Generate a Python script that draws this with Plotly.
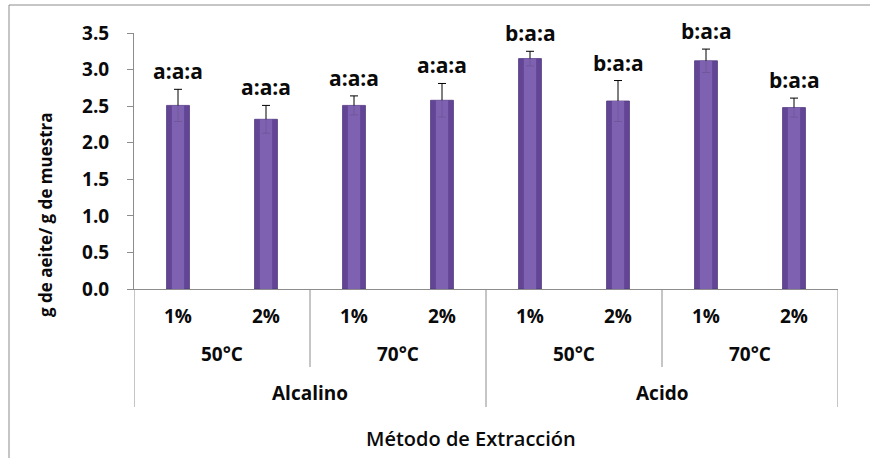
import plotly.graph_objects as go

# Data: oil yield by extraction method, temperature and concentration
concentracion = ["1%", "2%", "1%", "2%", "1%", "2%", "1%", "2%"]
temperatura = ["50°C", "70°C", "50°C", "70°C"]
metodo = ["Alcalino", "Acido"]
rendimiento = [2.51, 2.32, 2.51, 2.58, 3.15, 2.57, 3.12, 2.48]
error = [0.22, 0.19, 0.13, 0.23, 0.10, 0.28, 0.16, 0.13]
letras = ["a:a:a", "a:a:a", "a:a:a", "a:a:a", "b:a:a", "b:a:a", "b:a:a", "b:a:a"]

FONT = "Open Sans"
INK = "#0a0a0a"
W, H = 870, 458
L, R, T, B = 134, 32, 33, 169
pw, ph = W - L - R, H - T - B


def px(x):
    return (x - L) / pw


def py(y):
    return (H - B - y) / ph


xs = list(range(len(rendimiento)))

fig = go.Figure()
# outer (darker) body of each bar
fig.add_trace(go.Bar(
    x=xs, y=rendimiento, width=0.26,
    marker=dict(color="#624695", line=dict(color="#503881", width=0.8)),
    error_y=dict(type="data", array=error, visible=True,
                 color="black", thickness=1, width=4),
    hoverinfo="skip",
))
# lighter centre highlight
fig.add_trace(go.Bar(
    x=xs, y=rendimiento, width=0.14,
    marker=dict(color="#8466b6", line=dict(width=0)),
    opacity=0.85, hoverinfo="skip",
))

annotations = []
for i, (v, e, t) in enumerate(zip(rendimiento, error, letras)):
    annotations.append(dict(x=i, y=v + e, xref="x", yref="y", text=t,
                            showarrow=False, yanchor="bottom", yshift=2,
                            font=dict(family=FONT, size=21, color=INK,
                                      weight="bold")))

# three-level category axis
for i, c in enumerate(concentracion):
    annotations.append(dict(x=i, y=py(316), xref="x", yref="paper", text=c,
                            showarrow=False, yanchor="middle",
                            font=dict(family=FONT, size=19, color=INK,
                                      weight="bold")))
for j, t in enumerate(temperatura):
    annotations.append(dict(x=2 * j + 0.5, y=py(354), xref="x", yref="paper",
                            text=t, showarrow=False, yanchor="middle",
                            font=dict(family=FONT, size=19, color=INK,
                                      weight="bold")))
for k, m in enumerate(metodo):
    annotations.append(dict(x=4 * k + 1.5, y=py(393), xref="x", yref="paper",
                            text=m, showarrow=False, yanchor="middle",
                            font=dict(family=FONT, size=19, color=INK,
                                      weight="bold")))
annotations.append(dict(x=px(471), y=py(438), xref="paper", yref="paper",
                        text="Método de Extracción", showarrow=False,
                        yanchor="middle",
                        font=dict(family=FONT, size=20, color=INK,
                                  weight=600)))
annotations.append(dict(x=px(45), y=py(214), xref="paper", yref="paper",
                        text="g de aeite/ g de muestra", showarrow=False,
                        textangle=-90, xanchor="center", yanchor="middle",
                        font=dict(family=FONT, size=17, color=INK,
                                  weight="bold")))

shapes = []
grid = "#8c8c8c"
for xb in [-0.5, 3.5, 7.5]:
    shapes.append(dict(type="line", xref="x", yref="paper", x0=xb, x1=xb,
                       y0=0, y1=py(407), line=dict(color=grid, width=1)))
for xb in [1.5, 5.5]:
    shapes.append(dict(type="line", xref="x", yref="paper", x0=xb, x1=xb,
                       y0=0, y1=py(367), line=dict(color=grid, width=1)))
# chart frame (left and top edges)
shapes.append(dict(type="line", xref="paper", yref="paper", x0=px(9), x1=px(9),
                   y0=py(5), y1=py(470), line=dict(color=grid, width=1)))
shapes.append(dict(type="line", xref="paper", yref="paper", x0=px(9), x1=px(880),
                   y0=py(5), y1=py(5), line=dict(color=grid, width=1)))

fig.update_layout(
    width=W, height=H,
    margin=dict(l=L, r=R, t=T, b=B),
    paper_bgcolor="white", plot_bgcolor="white",
    barmode="overlay", showlegend=False,
    annotations=annotations, shapes=shapes,
    xaxis=dict(range=[-0.5, 7.5], showticklabels=False, ticks="",
               showgrid=False, zeroline=False, showline=True,
               linecolor=grid, linewidth=1),
    yaxis=dict(range=[0, 3.5], dtick=0.5, tickformat=".1f",
               showgrid=False, zeroline=False, showline=True,
               linecolor=grid, linewidth=1, ticks="outside", ticklen=6,
               tickcolor=grid, ticklabelstandoff=14,
               tickfont=dict(family=FONT, size=19, color=INK,
                             weight="bold")),
)

fig.write_html("out.html")
